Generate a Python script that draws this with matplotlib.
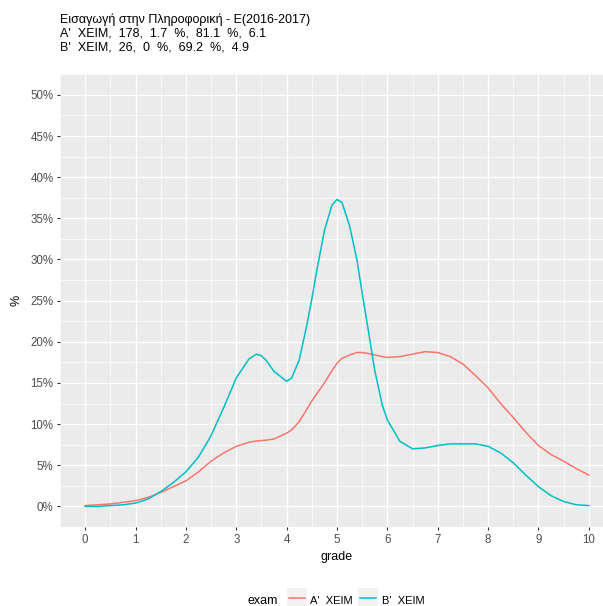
import matplotlib
matplotlib.use("Agg")
import matplotlib.pyplot as plt
from matplotlib.patches import Rectangle
from matplotlib.lines import Line2D
from matplotlib.ticker import MultipleLocator, FuncFormatter

plt.rcParams['font.family']=['Liberation Sans','DejaVu Sans']

#chart texts
titleLines=["Εισαγωγή στην Πληροφορική - Ε(2016-2017)",
            "Α'  ΧΕΙΜ,  178,  1.7  %,  81.1  %,  6.1",
            "Β'  ΧΕΙΜ,  26,  0  %,  69.2  %,  4.9"]
legendTitle="exam"
examNames=["Α'  ΧΕΙΜ","Β'  ΧΕΙΜ"]
examColors=["#F8766D","#00BFC4"]

#density curves (grade, percent)
grade=[0,0.25,0.5,0.75,1.0,1.25,1.5,1.75,2.0,2.25,2.5,2.75,3.0,3.25,3.4,3.5,3.6,3.75,
       4.0,4.1,4.25,4.4,4.5,4.6,4.75,4.9,5.0,5.1,5.25,5.4,5.5,5.6,5.75,5.9,6.0,6.25,
       6.5,6.75,7.0,7.25,7.5,7.75,8.0,8.25,8.5,8.75,9.0,9.25,9.5,9.75,10.0]
percentA=[0.1,0.2,0.3,0.5,0.7,1.1,1.7,2.4,3.1,4.2,5.5,6.5,7.3,7.8,7.95,8.0,8.05,8.2,
          8.9,9.3,10.3,11.8,12.8,13.7,15.0,16.5,17.4,18.0,18.4,18.7,18.7,18.6,18.4,18.2,18.1,18.2,
          18.5,18.8,18.7,18.2,17.3,15.9,14.4,12.5,10.8,9.0,7.4,6.3,5.5,4.6,3.8]
percentB=[0.0,0.0,0.1,0.2,0.4,0.9,1.8,2.9,4.2,6.0,8.6,12.0,15.6,17.9,18.5,18.3,17.7,16.4,
          15.2,15.6,17.8,22.0,25.2,28.7,33.5,36.6,37.3,36.9,34.1,29.8,25.9,22.2,16.5,12.3,10.5,7.9,
          7.0,7.1,7.4,7.6,7.6,7.6,7.3,6.5,5.3,3.8,2.4,1.3,0.6,0.2,0.1]

W,H=603,606

def figPos(x,y):
    #pixel position (from top left) to figure fraction
    return(x/W,1-y/H)

fig=plt.figure(figsize=(W/100,H/100),dpi=100)
left,bottom=figPos(60,527)
right,top=figPos(614,74.3)
ax=fig.add_axes([left,bottom,right-left,top-bottom])

ax.set_facecolor("#EBEBEB")
for spine in ax.spines.values():
    spine.set_visible(False)

ax.xaxis.set_major_locator(MultipleLocator(1))
ax.xaxis.set_minor_locator(MultipleLocator(0.5))
ax.yaxis.set_major_locator(MultipleLocator(5))
ax.yaxis.set_minor_locator(MultipleLocator(2.5))
ax.yaxis.set_major_formatter(FuncFormatter(lambda v,p: "%d%%"%round(v)))
ax.grid(which='major',color='white',linewidth=1.0)
ax.grid(which='minor',color='white',linewidth=0.5)
ax.set_axisbelow(True)
ax.tick_params(which='major',length=2.2,width=0.8,color='#333333',labelsize=8.3,labelcolor='#4D4D4D',pad=2.5)
ax.tick_params(which='minor',length=0)

ax.plot(grade,percentA,color=examColors[0],linewidth=1.1,solid_joinstyle='round')
ax.plot(grade,percentB,color=examColors[1],linewidth=1.1,solid_joinstyle='round')

ax.set_xlim(-0.5,10.5)
ax.set_ylim(-2.5,52.5)
ax.set_xlabel("grade",fontsize=9,labelpad=4)
ax.set_ylabel("%",fontsize=9,labelpad=6)

#title, three left aligned lines
for i,line in enumerate(titleLines):
    tx,ty=figPos(60,20+14*i)
    fig.text(tx,ty,line,fontsize=9,ha='left',va='center',color='black')

#legend at the bottom, drawn by hand like ggplot
tx,ty=figPos(247,601)
fig.text(tx,ty,legendTitle,fontsize=9,ha='left',va='center')
keyX=[287,358]
labelX=[310,382]
for i in range(2):
    bx,by=figPos(keyX[i],607)
    fig.patches.append(Rectangle((bx,by),20/W,19/H,transform=fig.transFigure,
                                 facecolor='#F2F2F2',edgecolor='none'))
    x1,yy=figPos(keyX[i]+2,598)
    x2,_=figPos(keyX[i]+18,598)
    fig.lines.append(Line2D([x1,x2],[yy,yy],transform=fig.transFigure,
                            color=examColors[i],linewidth=1.1))
    lx,ly=figPos(labelX[i],601)
    fig.text(lx,ly,examNames[i],fontsize=8,ha='left',va='center')

fig.savefig("out.png",dpi=100)
